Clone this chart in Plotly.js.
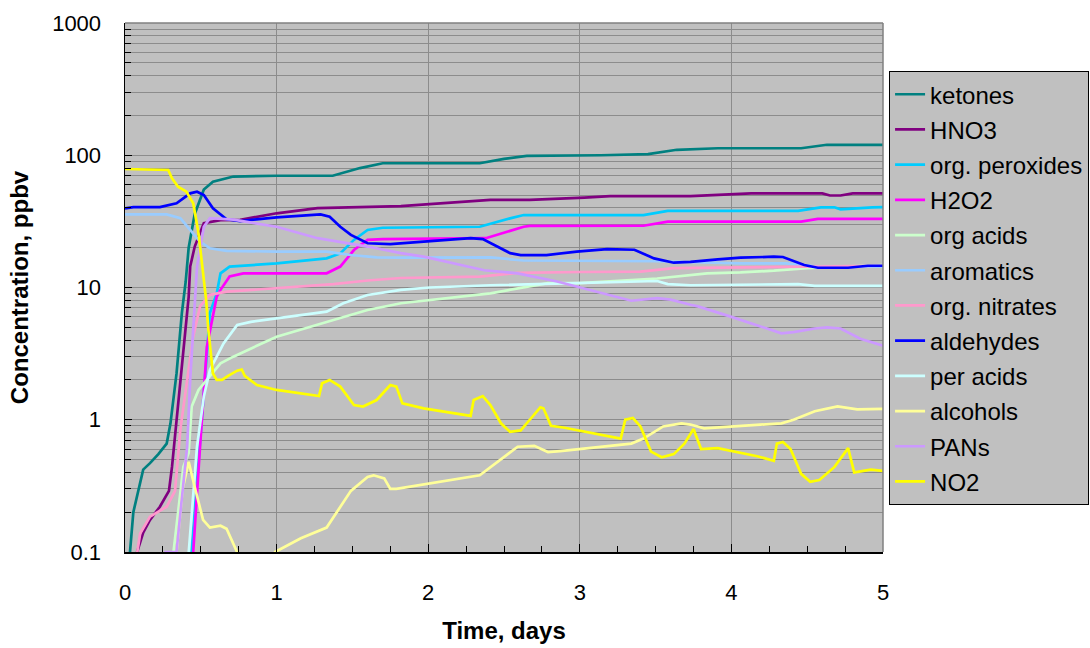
<!DOCTYPE html>
<html>
<head>
<meta charset="utf-8">
<script src="https://cdn.plot.ly/plotly-3.0.1.min.js"></script>
<style>html,body{margin:0;padding:0;background:#fff;}#chart{width:1090px;height:648px;}</style>
</head>
<body>
<div id="chart"></div>
<script>
// ---- data (time in days, concentration in ppbv) ----
var seriesNames = ["ketones","HNO3","org. peroxides","H2O2","org acids","aromatics","org. nitrates","aldehydes","per acids","alcohols","PANs","NO2"];
var seriesColors = ["#008080","#800080","#00CCFF","#FF00FF","#CCFFCC","#99CCFF","#FF99CC","#0000FF","#CCFFFF","#FFFF99","#CC99FF","#FFFF00"];

var ketonesT = [0.02,0.033,0.055,0.09,0.12,0.165,0.22,0.275,0.30,0.34,0.375,0.40,0.42,0.46,0.52,0.58,0.715,1.0,1.37,1.55,1.70,2.34,2.5,2.65,3.14,3.45,3.64,3.91,4.46,4.63,5.0];
var ketonesV = [0.05,0.1,0.2,0.3,0.42,0.47,0.55,0.66,0.94,2.24,6.4,11,20,36,55,63,69,70,70,80,87,87,94,99,100,102,110,113,113,120,120];

var hno3T = [0.06,0.08,0.12,0.165,0.23,0.29,0.31,0.34,0.375,0.42,0.43,0.46,0.52,0.63,0.76,1.0,1.27,1.82,2.41,2.67,3.03,3.2,3.73,3.91,4.13,4.6,4.65,4.72,4.8,5.0];
var hno3V = [0.07,0.1,0.14,0.175,0.22,0.29,0.44,1.0,2.67,8.5,14.4,20.4,30.6,32.3,32.5,36.4,39.8,41.3,46,46,47.8,49,49,50,51.5,51.5,49.6,49.6,51.5,51.5];

var orgPeroxT = [0.42,0.44,0.48,0.51,0.56,0.605,0.63,0.69,0.83,1.0,1.33,1.42,1.51,1.6,1.70,2.34,2.54,2.63,3.42,3.58,4.44,4.59,4.68,4.72,4.93,5.0];
var orgPeroxV = [0.05,0.1,0.4,1.1,6.4,9,12.8,14.4,14.8,15.2,16.6,18.1,22.9,27.2,28.3,28.8,33.3,35.3,35.3,38,38,40.4,40.4,39,40.4,40.5];

var h2o2T = [0.43,0.45,0.495,0.54,0.605,0.63,0.69,0.78,1.33,1.42,1.51,1.6,1.70,2.38,2.63,2.67,3.42,3.58,4.46,4.57,5.0];
var h2o2V = [0.05,0.1,0.625,3.56,8.5,9.6,12.1,12.8,12.8,14.4,19.2,22.9,23.2,23.6,28.8,29.2,29.3,31.5,31.5,33,33];

var orgAcidsT = [0.30,0.32,0.36,0.385,0.42,0.44,0.485,0.56,0.63,0.715,0.83,1.0,1.375,1.6,1.82,2.41,2.79,3.0,3.51,3.62,3.84,4.06,4.28,4.5,5.0];
var orgAcidsV = [0.05,0.1,0.25,0.44,0.56,1.26,1.68,2.12,2.67,3.0,3.47,4.25,5.68,6.76,7.6,9.04,10.8,10.8,11.7,12.1,12.8,13,13.4,14,14.8];

var aromaticsT = [0,0.275,0.365,0.43,0.495,0.56,0.67,1.0,1.33,1.49,1.66,1.82,2.41,2.63,3.51,4.06,4.36,4.57,5.0];
var aromaticsV = [35.7,35.7,33.4,27.2,22.2,19.8,18.9,18.7,18.7,17.6,16.9,16.8,16.9,16,15.8,15.2,15.2,14.4,14.4];

var orgNitratesT = [0.06,0.08,0.1,0.165,0.275,0.33,0.365,0.41,0.45,0.495,0.56,0.67,1.0,1.375,1.6,1.82,2.34,2.59,3.0,3.4,3.62,4.5,5.0];
var orgNitratesV = [0.07,0.1,0.138,0.185,0.22,0.29,0.84,2.0,4.25,7.2,8.8,9.3,9.9,10.6,11.3,11.8,12.1,12.9,13.1,13.2,14,14.4,14.6];

var aldehydesT = [0,0.055,0.23,0.34,0.43,0.475,0.52,0.58,0.67,0.76,1.0,1.29,1.35,1.42,1.49,1.6,1.75,1.97,2.28,2.36,2.45,2.54,2.61,2.78,2.98,3.18,3.36,3.49,3.62,3.73,3.91,4.06,4.28,4.34,4.48,4.57,4.77,4.9,5.0];
var aldehydesV = [39.7,40.5,40.5,43.3,51.5,53,50,39.7,32.8,31.8,33.9,35.7,34.3,28.8,25,21.6,21.3,22.2,23.6,23.2,20.4,18.2,17.6,17.6,18.7,19.5,19.3,16.6,15.4,15.6,16.3,16.8,17.1,17,14.8,14.1,14.1,14.6,14.6];

var perAcidsT = [0.40,0.42,0.475,0.52,0.56,0.65,0.74,0.83,1.0,1.33,1.44,1.6,1.82,2.01,2.41,2.98,3.51,3.58,3.73,4.44,4.55,5.0];
var perAcidsV = [0.05,0.1,0.625,1.5,2.38,3.78,5.2,5.5,5.85,6.56,7.6,8.77,9.6,10,10.4,10.8,11.2,10.6,10.4,10.6,10.3,10.3];

var alcoholsT = [0.32,0.34,0.38,0.42,0.46,0.515,0.56,0.63,0.67,0.74,0.8,0.95,0.99,1.16,1.33,1.49,1.6,1.64,1.71,1.75,1.79,2.34,2.48,2.59,2.70,2.79,2.87,3.34,3.42,3.55,3.67,3.73,3.82,4.02,4.33,4.41,4.55,4.70,4.83,5.0];
var alcoholsV = [0.05,0.1,0.3,0.48,0.31,0.175,0.153,0.158,0.15,0.1,0.07,0.07,0.1,0.127,0.153,0.29,0.37,0.38,0.36,0.3,0.3,0.38,0.50,0.625,0.635,0.57,0.58,0.66,0.72,0.89,0.94,0.92,0.86,0.89,0.94,1.0,1.16,1.26,1.2,1.21];

var pansT = [0.26,0.34,0.365,0.41,0.43,0.46,0.475,0.52,0.56,0.715,1.0,1.27,1.6,1.82,1.97,2.37,2.59,2.85,3.29,3.34,3.51,3.6,3.73,3.78,4.0,4.17,4.33,4.41,4.55,4.63,4.72,4.85,5.0];
var pansV = [0.1,0.1,0.196,0.625,2.0,8.5,14.4,28.8,33.4,32.6,28.8,23.6,20.4,18.2,17.1,13.5,12.8,11.1,8.3,7.94,8.3,8.1,7.4,7.2,6.0,5.2,4.5,4.6,4.9,5.0,4.9,4.1,3.63];

var no2T = [0,0.285,0.31,0.35,0.405,0.45,0.485,0.52,0.535,0.55,0.58,0.605,0.64,0.68,0.74,0.77,0.79,0.87,1.0,1.28,1.30,1.35,1.42,1.51,1.57,1.66,1.75,1.79,1.83,1.97,2.28,2.30,2.36,2.41,2.48,2.54,2.61,2.67,2.74,2.76,2.81,2.90,3.27,3.30,3.35,3.40,3.47,3.54,3.62,3.69,3.75,3.80,3.91,4.17,4.28,4.30,4.34,4.39,4.46,4.52,4.58,4.68,4.77,4.81,4.92,5.0];
var no2V = [78.7,77.4,67,57.8,53,43.3,25.7,12.1,8.1,4.78,2.24,2.0,2.0,2.15,2.35,2.4,2.15,1.83,1.68,1.51,1.89,2.0,1.78,1.29,1.26,1.41,1.83,1.78,1.33,1.22,1.07,1.41,1.51,1.29,0.94,0.81,0.83,1.0,1.24,1.22,0.9,0.87,0.72,1.0,1.03,0.89,0.574,0.52,0.55,0.66,0.85,0.6,0.61,0.53,0.49,0.66,0.68,0.6,0.39,0.34,0.35,0.44,0.61,0.4,0.42,0.41];

var yTickVals = [0.1,1,10,100,1000];
var yTickText = ["0.1","1","10","100","1000"];
var xTickVals = [0,1,2,3,4,5];
var xTickText = ["0","1","2","3","4","5"];

// ---- build traces ----
var allT = [ketonesT,hno3T,orgPeroxT,h2o2T,orgAcidsT,aromaticsT,orgNitratesT,aldehydesT,perAcidsT,alcoholsT,pansT,no2T];
var allV = [ketonesV,hno3V,orgPeroxV,h2o2V,orgAcidsV,aromaticsV,orgNitratesV,aldehydesV,perAcidsV,alcoholsV,pansV,no2V];
var traces = seriesNames.map(function(n,i){
  return {x: allT[i], y: allV[i], name: n, type: 'scatter', mode: 'lines',
          legendgroup: 'g'+i,
          line: {color: seriesColors[i], width: 2.7}};
});

var minorY = [];
[0.1,1,10,100].forEach(function(d){ for (var k=2;k<=9;k++) minorY.push(d*k); });

var FONT = 'Liberation Sans, Arial, sans-serif';
var layout = {
  width: 1090, height: 648,
  margin: {l:125, r:207, t:23, b:96, pad:0, autoexpand: false},
  paper_bgcolor: '#ffffff',
  plot_bgcolor: '#C0C0C0',
  font: {family: FONT, size: 22, color: '#000'},
  showlegend: true,
  legend: {x: 1.008, xanchor: 'left', y: 0.909, yanchor: 'top',
           bgcolor: '#C0C0C0', bordercolor: '#000', borderwidth: 1,
           font: {family: FONT, size: 24, color: '#000'},
           tracegroupgap: 1, itemwidth: 30, traceorder: 'grouped'},
  xaxis: {range: [0,5], tickmode: 'array', tickvals: xTickVals, ticktext: xTickText,
          ticks: 'inside', ticklen: 8, tickcolor: '#000', tickwidth: 1,
          showline: true, linecolor: '#000', linewidth: 1.5,
          showgrid: true, gridcolor: '#8c8c8c', gridwidth: 1, zeroline: false,
          ticklabelstandoff: 20,
          minor: {dtick: 0.25, ticks: 'inside', ticklen: 6, tickcolor: '#000', showgrid: false},
          title: {text: '<b>Time, days</b>', font: {family: FONT, size: 24, color:'#000'}, standoff: 18}},
  yaxis: {type: 'log', range: [-1,3], tickmode: 'array', tickvals: yTickVals, ticktext: yTickText,
          ticks: 'inside', ticklen: 7, tickcolor: '#000', tickwidth: 1,
          showline: true, linecolor: '#000', linewidth: 1.5,
          showgrid: true, gridcolor: '#8c8c8c', gridwidth: 1, zeroline: false,
          ticklabelstandoff: 18,
          minor: {tickmode: 'array', tickvals: minorY, ticks: 'inside', ticklen: 6, tickcolor: '#000',
                  showgrid: true, gridcolor: '#8c8c8c', gridwidth: 1},
          title: {text: '<b>Concentration, ppbv</b>', font: {family: FONT, size: 24, color:'#000'}, standoff: 16}},
  shapes: [
    {type: 'line', xref: 'paper', yref: 'paper', x0: 0, x1: 1, y0: 1, y1: 1, line: {color: '#808080', width: 1.5}},
    {type: 'line', xref: 'paper', yref: 'paper', x0: 1, x1: 1, y0: 0, y1: 1, line: {color: '#808080', width: 1.5}}
  ]
};

Plotly.newPlot('chart', traces, layout, {displayModeBar: false, staticPlot: true});
</script>
</body>
</html>
